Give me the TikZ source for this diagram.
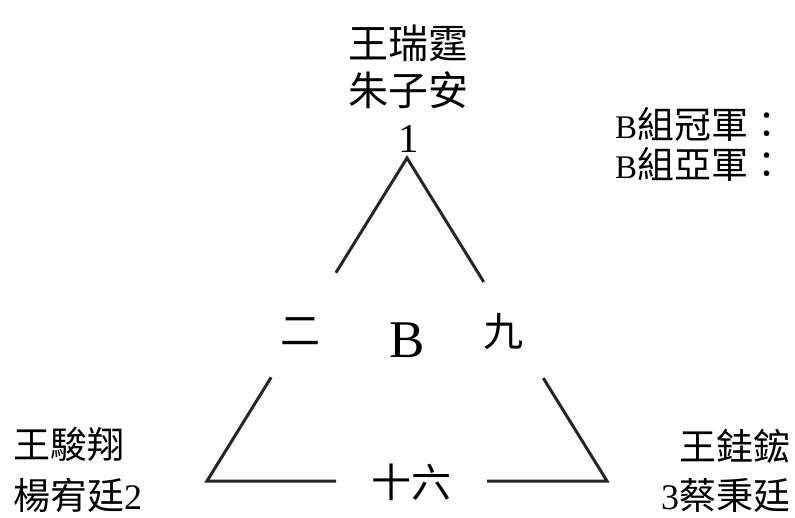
\documentclass[tikz,border=0pt]{standalone}
\usepackage{fontspec}
\setmainfont{Liberation Serif}
\newfontfamily\cjk{Noto Sans CJK TC}
\usepackage{tikz}
\usetikzlibrary{positioning}

\begin{document}
\begin{tikzpicture}[
    x=1pt, y=-1pt,
    every node/.style={inner sep=0pt, outer sep=0pt},
    big/.style={font=\fontsize{40}{40}\selectfont},
    team/.style={font=\fontsize{37}{37}\selectfont},
    latin/.style={font=\fontsize{41}{41}\selectfont},
    gap/.style={circle, minimum size=#1},
    edge/.style={line width=3pt, draw=black!85}
]
\useasboundingbox (0,0) rectangle (795,517);

% top seed
\node[big] (top1) at (408,43) {\cjk 王瑞霆};
\node[big] (top2) at (408,90) {\cjk 朱子安};
\node[latin] (one) at (409,139) {1};
\coordinate (apex) at (407,158);

% results
\node[team, anchor=west] (champ) at (615,124)
  {{\fontsize{33}{33}\selectfont B}\cjk 組冠軍：};
\node[team, anchor=west] (runner) at (615,164)
  {{\fontsize{33}{33}\selectfont B}\cjk 組亞軍：};

% middle labels
\node[big] (two) at (300,332) {\cjk 二};
\node[font=\fontsize{53}{53}\selectfont] (grp) at (407,340) {B};
\node[big] (nine) at (503,332) {\cjk 九};
\node[big] (sixteen) at (411,482) {\cjk 十六};

% bottom seeds
\node[team, anchor=west] (left1) at (13,444) {\cjk 王駿翔};
\node[team, anchor=west] (left2) at (13,495) {{\cjk 楊宥廷}{\fontsize{36}{36}\selectfont 2}};
\node[team, anchor=east] (right1) at (790,446) {\cjk 王銈鋐};
\node[team, anchor=east] (right2) at (790,495) {{\fontsize{36}{36}\selectfont 3}\cjk 蔡秉廷};

\coordinate (bl) at (207,481);
\coordinate (br) at (607,481);

% gaps in the triangle
\node[gap=123pt] (gl) at (303.5,325) {};
\node[gap=113pt] (gr) at (513.5,330) {};
\node[gap=151pt] (gb) at (411.5,481) {};

\draw[edge] (gl) -- (apex) -- (gr) (gr) -- (br) -- (gb) (gb) -- (bl) -- (gl);

\end{tikzpicture}
\end{document}
